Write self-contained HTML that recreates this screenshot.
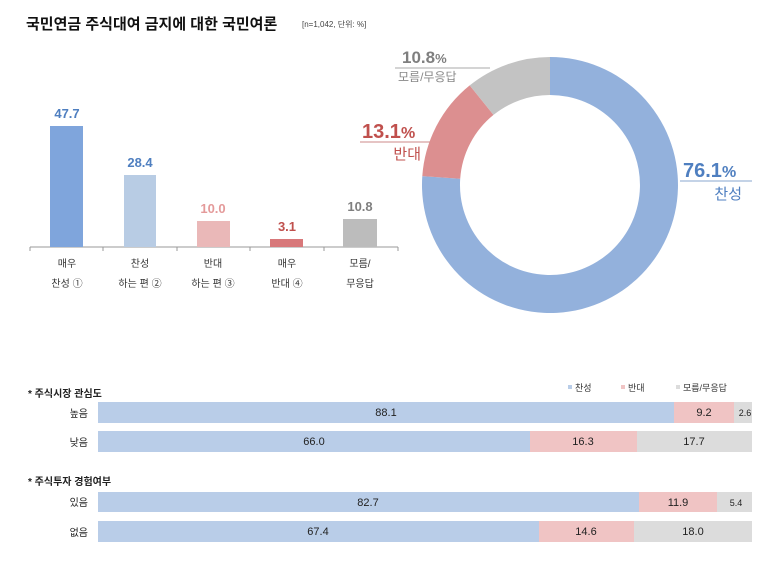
<!DOCTYPE html>
<html><head><meta charset="utf-8"><style>
body{margin:0;background:#fff;}
svg text{font-family:"Liberation Sans","Noto Sans CJK KR",sans-serif;}
</style></head><body>
<svg width="760" height="557" viewBox="0 0 760 557" xmlns="http://www.w3.org/2000/svg">
<rect width="760" height="557" fill="#fff"/>
<text x="26" y="29" font-size="15" font-weight="bold" fill="#111">국민연금 주식대여 금지에 대한 국민여론</text>
<text x="302" y="27" font-size="8" fill="#444">[n=1,042, 단위: %]</text>

<!-- bar chart -->
<line x1="30" y1="247" x2="398" y2="247" stroke="#999" stroke-width="1"/>
<g stroke="#999"><line x1="30" y1="247" x2="30" y2="251"/><line x1="103" y1="247" x2="103" y2="251"/><line x1="177" y1="247" x2="177" y2="251"/><line x1="250" y1="247" x2="250" y2="251"/><line x1="324" y1="247" x2="324" y2="251"/><line x1="398" y1="247" x2="398" y2="251"/></g>
<rect x="50" y="126" width="33" height="121" fill="#7fa5dc"/>
<rect x="124" y="175" width="32" height="72" fill="#b8cce4"/>
<rect x="197" y="221" width="33" height="26" fill="#eab8b8"/>
<rect x="270" y="239" width="33" height="8" fill="#d8787a"/>
<rect x="343" y="219" width="34" height="28" fill="#bcbcbc"/>
<g font-size="13" font-weight="bold" text-anchor="middle">
<text x="67" y="118" fill="#4f7fc0">47.7</text>
<text x="140" y="167" fill="#4f7fc0">28.4</text>
<text x="213" y="213" fill="#e49a9a">10.0</text>
<text x="287" y="231" fill="#c0504d">3.1</text>
<text x="360" y="211" fill="#7f7f7f">10.8</text>
</g>
<g font-size="10" text-anchor="middle" fill="#333">
<text x="67" y="267">매우</text><text x="67" y="287">찬성 ①</text>
<text x="140" y="267">찬성</text><text x="140" y="287">하는 편 ②</text>
<text x="213" y="267">반대</text><text x="213" y="287">하는 편 ③</text>
<text x="287" y="267">매우</text><text x="287" y="287">반대 ④</text>
<text x="360" y="267">모름/</text><text x="360" y="287">무응답</text>
</g>

<!-- donut -->
<path d="M550,57 A128,128 0 1 1 422.3,176.1 L460.2,178.7 A90,90 0 1 0 550,95 Z" fill="#93b1dc"/>
<path d="M422.3,176.1 A128,128 0 0 1 469.7,85.4 L493.5,114.9 A90,90 0 0 0 460.2,178.7 Z" fill="#dc8f90"/>
<path d="M469.7,85.4 A128,128 0 0 1 550,57 L550,95 A90,90 0 0 0 493.5,114.9 Z" fill="#c3c3c3"/>
<text x="402" y="63" font-size="17" font-weight="bold" fill="#7f7f7f">10.8<tspan font-size="13">%</tspan></text>
<line x1="395" y1="68" x2="490" y2="68" stroke="#aaa"/>
<text x="398" y="81" font-size="12" fill="#888">모름/무응답</text>
<text x="362" y="138" font-size="20" font-weight="bold" fill="#c0504d">13.1<tspan font-size="16">%</tspan></text>
<line x1="360" y1="142" x2="430" y2="142" stroke="#c88"/>
<text x="421" y="159" font-size="15" fill="#c0504d" text-anchor="end">반대</text>
<text x="683" y="177" font-size="20" font-weight="bold" fill="#4f7fc0">76.1<tspan font-size="16">%</tspan></text>
<line x1="680" y1="181" x2="752" y2="181" stroke="#8aa7cf"/>
<text x="742" y="199" font-size="15" fill="#4f7fc0" text-anchor="end">찬성</text>

<!-- legend -->
<g font-size="9" fill="#333">
<rect x="568" y="385" width="4" height="4" fill="#b9cde8"/><text x="575" y="391">찬성</text>
<rect x="621" y="385" width="4" height="4" fill="#f0c4c4"/><text x="628" y="391">반대</text>
<rect x="676" y="385" width="4" height="4" fill="#dcdcdc"/><text x="683" y="391">모름/무응답</text>
</g>
<g font-size="10" font-weight="bold" fill="#222">
<text x="28" y="397">* 주식시장 관심도</text>
<text x="28" y="485">* 주식투자 경험여부</text>
</g>
<g font-size="10" fill="#222" text-anchor="end">
<text x="88" y="417">높음</text><text x="88" y="446">낮음</text>
<text x="88" y="506">있음</text><text x="88" y="536">없음</text>
</g>
<!-- stacked -->
<rect x="98" y="402" width="576" height="21" fill="#b9cde8"/><rect x="674" y="402" width="60" height="21" fill="#f0c4c4"/><rect x="734" y="402" width="18" height="21" fill="#dcdcdc"/>
<rect x="98" y="431" width="432" height="21" fill="#b9cde8"/><rect x="530" y="431" width="107" height="21" fill="#f0c4c4"/><rect x="637" y="431" width="115" height="21" fill="#dcdcdc"/>
<rect x="98" y="492" width="541" height="20" fill="#b9cde8"/><rect x="639" y="492" width="78" height="20" fill="#f0c4c4"/><rect x="717" y="492" width="35" height="20" fill="#dcdcdc"/>
<rect x="98" y="521" width="441" height="21" fill="#b9cde8"/><rect x="539" y="521" width="95" height="21" fill="#f0c4c4"/><rect x="634" y="521" width="118" height="21" fill="#dcdcdc"/>
<g font-size="11" fill="#222" text-anchor="middle">
<text x="386" y="416">88.1</text><text x="704" y="416">9.2</text><text x="745" y="416" font-size="9">2.6</text>
<text x="314" y="445">66.0</text><text x="583" y="445">16.3</text><text x="694" y="445">17.7</text>
<text x="368" y="506">82.7</text><text x="678" y="506">11.9</text><text x="736" y="506" font-size="9">5.4</text>
<text x="318" y="535">67.4</text><text x="586" y="535">14.6</text><text x="693" y="535">18.0</text>
</g>
</svg>
</body></html>
